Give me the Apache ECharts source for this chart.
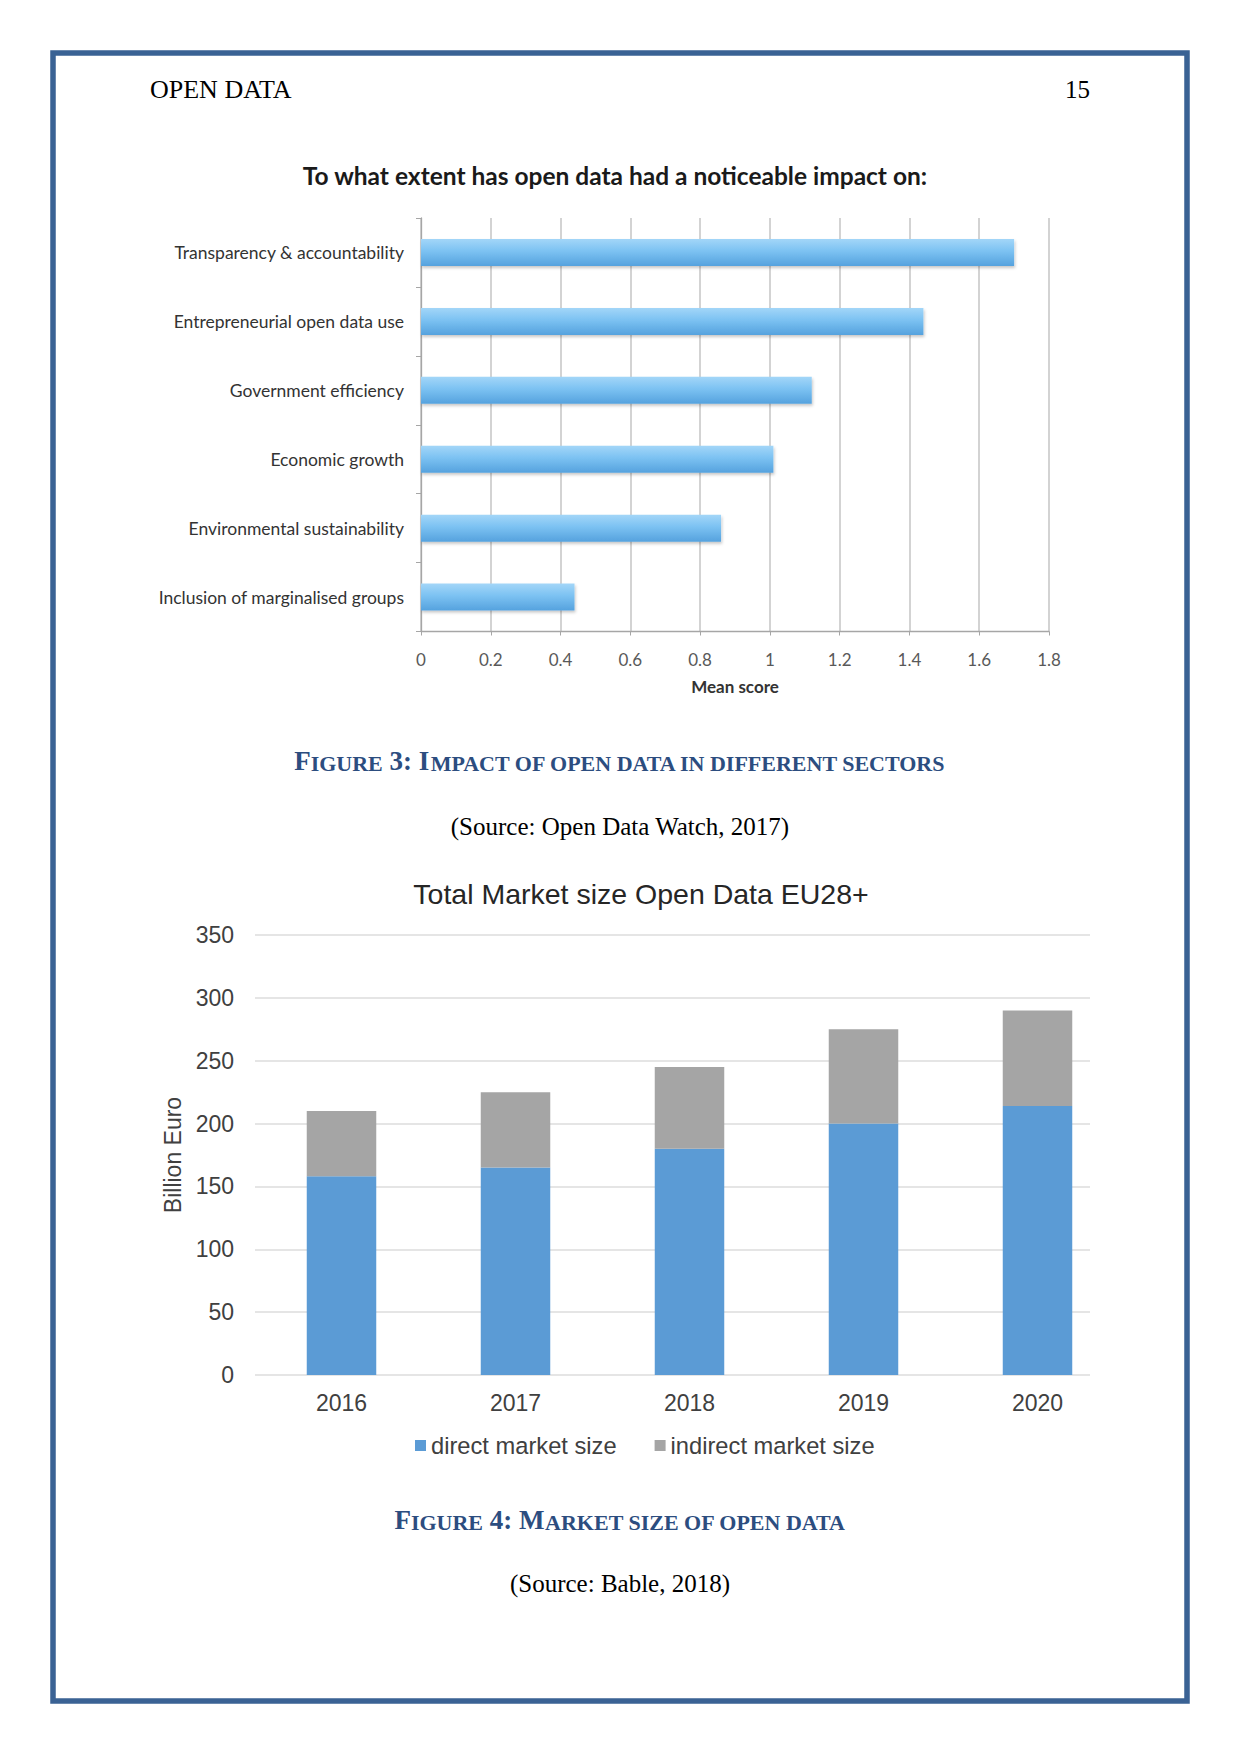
<!DOCTYPE html>
<html>
<head>
<meta charset="utf-8">
<script src="https://cdn.jsdelivr.net/npm/echarts@6/dist/echarts.min.js"></script>
<style>
html,body{margin:0;padding:0;background:#fff;}
#page{width:1241px;height:1754px;}
</style>
</head>
<body>
<div id="page"></div>
<script>
// ---- Figure 3 data ----
var impactCategories = [
  'Transparency & accountability',
  'Entrepreneurial open data use',
  'Government efficiency',
  'Economic growth',
  'Environmental sustainability',
  'Inclusion of marginalised groups'
];
var impactScores = [1.70, 1.44, 1.12, 1.01, 0.86, 0.44];

// ---- Figure 4 data ----
var years = ['2016', '2017', '2018', '2019', '2020'];
var directMarket = [158, 165, 180, 200, 214];
var indirectMarket = [52, 60, 65, 75, 76];
var seriesNames = ['direct market size', 'indirect market size'];

var serif = '"Liberation Serif", "Times New Roman", serif';
var calib = 'Lato, "Open Sans", sans-serif';
var arial = '"Liberation Sans", Arial, sans-serif';
var capBlue = '#2c4d7f';

function capsRich(big, small) {
  return {
    b: {fontFamily: serif, fontWeight: 'bold', fontSize: big, fill: capBlue, color: capBlue, verticalAlign: 'bottom'},
    s: {fontFamily: serif, fontWeight: 'bold', fontSize: small, fill: capBlue, color: capBlue, verticalAlign: 'bottom'}
  };
}

var chart = echarts.init(document.getElementById('page'), null, {renderer: 'svg', width: 1241, height: 1754});

var option = {
  backgroundColor: '#ffffff',
  animation: false,
  graphic: [
    {type: 'rect', shape: {x: 53, y: 53, width: 1134, height: 1648},
     style: {fill: 'none', stroke: '#3a6294', lineWidth: 5.5}, silent: true},
    {type: 'text', x: 150, y: 89, style: {text: 'OPEN DATA', font: '26px ' + serif, fill: '#000', align: 'left', verticalAlign: 'middle'}},
    {type: 'text', x: 1090, y: 89, style: {text: '15', font: '25px ' + serif, fill: '#000', align: 'right', verticalAlign: 'middle'}},
    {type: 'text', x: 615, y: 175, style: {text: 'To what extent has open data had a noticeable impact on:', font: 'bold 24.5px ' + calib, fill: '#1a1a1a', align: 'center', verticalAlign: 'middle'}},
    {type: 'text', x: 620, y: 761, style: {
      text: '{b|F}{s|IGURE}{b| 3: I}{s|MPACT OF OPEN DATA IN DIFFERENT SECTORS}',
      rich: capsRich(27, 22), fill: capBlue, align: 'center', verticalAlign: 'middle'}},
    {type: 'text', x: 620, y: 826, style: {text: '(Source: Open Data Watch, 2017)', font: '25px ' + serif, fill: '#000', align: 'center', verticalAlign: 'middle'}},
    {type: 'text', x: 641, y: 894, style: {text: 'Total Market size Open Data EU28+', font: '28.5px ' + arial, fill: '#262626', align: 'center', verticalAlign: 'middle'}},
    {type: 'text', x: 620, y: 1520, style: {
      text: '{b|F}{s|IGURE}{b| 4: M}{s|ARKET SIZE OF OPEN DATA}',
      rich: capsRich(27, 22), fill: capBlue, align: 'center', verticalAlign: 'middle'}},
    {type: 'text', x: 620, y: 1583, style: {text: '(Source: Bable, 2018)', font: '25px ' + serif, fill: '#000', align: 'center', verticalAlign: 'middle'}}
  ],
  legend: {
    data: seriesNames,
    left: 415, top: 1433.5, padding: 0,
    icon: 'rect', itemWidth: 11, itemHeight: 11, itemGap: 38,
    textStyle: {fontFamily: arial, fontSize: 23.7, color: '#404040'}
  },
  grid: [
    {left: 421, top: 218, width: 628, height: 413.5},
    {left: 255, top: 935, width: 835, height: 440},
    {left: 254.5, top: 935, width: 870, height: 440}
  ],
  xAxis: [
    {gridIndex: 0, type: 'value', min: 0, max: 1.8, interval: 0.2,
     name: 'Mean score', nameLocation: 'middle', nameGap: 46,
     nameTextStyle: {fontFamily: calib, fontWeight: 'bold', fontSize: 17, color: '#333'},
     axisLine: {show: true, lineStyle: {color: '#a6a6a6', width: 1.3}},
     axisTick: {show: true, length: 4, lineStyle: {color: '#a6a6a6'}},
     axisLabel: {margin: 19, fontFamily: calib, fontSize: 17, color: '#595959'},
     splitLine: {show: true, lineStyle: {color: '#c4c4c4', width: 1.5}}},
    {gridIndex: 1, type: 'value', show: false, min: 0, max: 1},
    {gridIndex: 2, type: 'category', data: years,
     axisLine: {show: false}, axisTick: {show: false},
     axisLabel: {margin: 16, fontFamily: arial, fontSize: 23, color: '#404040'}}
  ],
  yAxis: [
    {gridIndex: 0, type: 'category', data: impactCategories, inverse: true,
     axisLine: {show: true, lineStyle: {color: '#a6a6a6', width: 1.3}},
     axisTick: {show: true, length: 5, lineStyle: {color: '#a6a6a6'}},
     axisLabel: {margin: 17, fontFamily: calib, fontSize: 17.5, color: '#333'},
     splitLine: {show: false}},
    {gridIndex: 1, type: 'value', min: 0, max: 350, interval: 50,
     name: 'Billion Euro', nameLocation: 'middle', nameGap: 64,
     nameTextStyle: {fontFamily: arial, fontSize: 23, color: '#404040'},
     axisLine: {show: false}, axisTick: {show: false},
     axisLabel: {margin: 21, fontFamily: arial, fontSize: 23, color: '#404040'},
     splitLine: {show: true, lineStyle: {color: '#dcdcdc', width: 1.5}}},
    {gridIndex: 2, type: 'value', min: 0, max: 350, interval: 50, show: false}
  ],
  series: [
    {type: 'bar', xAxisIndex: 0, yAxisIndex: 0, data: impactScores, barWidth: 27,
     itemStyle: {
       color: new echarts.graphic.LinearGradient(0, 0, 0, 1, [
         {offset: 0, color: '#a3d6f8'},
         {offset: 0.45, color: '#7cc2f2'},
         {offset: 1, color: '#55a2de'}
       ]),
       shadowColor: 'rgba(0,0,0,0.22)', shadowBlur: 3, shadowOffsetY: 2, shadowOffsetX: 1
     }},
    {name: seriesNames[0], type: 'bar', stack: 'total', xAxisIndex: 2, yAxisIndex: 2,
     data: directMarket, barWidth: 69.5, itemStyle: {color: '#5b9bd5'}},
    {name: seriesNames[1], type: 'bar', stack: 'total', xAxisIndex: 2, yAxisIndex: 2,
     data: indirectMarket, barWidth: 69.5, itemStyle: {color: '#a5a5a5'}}
  ]
};
chart.setOption(option);
</script>
</body>
</html>
